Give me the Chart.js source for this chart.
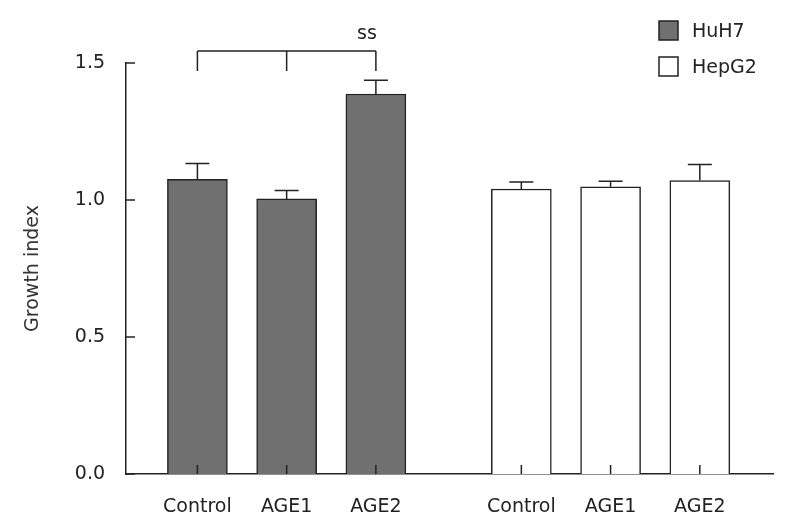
<!DOCTYPE html>
<html lang="en">
  <head>
    <meta charset="UTF-8" />
    <title>Growth index</title>
    <script src="https://cdn.jsdelivr.net/npm/chart.js"></script>
    <style>
      body {
        margin: 0;
        background: #fff;
      }
    </style>
  </head>
  <body>
    <canvas id="chartCanvas" width="798" height="531"></canvas>

    <script>
      const categories = ["Control", "AGE1", "AGE2"];
      const huh7Values = [1.075, 1.004, 1.387];
      const huh7Errors = [0.058, 0.031, 0.05];
      const hepg2Values = [1.04, 1.048, 1.071];
      const hepg2Errors = [0.026, 0.02, 0.059];
      const yTicks = [0, 0.5, 1.0, 1.5];
      const significance = "ss";

      // layout of the two groups on the x axis
      const groupGap = 0.63;
      const xOf = (group, i) => group * (categories.length + groupGap) + i;
      const xPositions = [];
      [0, 1].forEach((g) => categories.forEach((c, i) => xPositions.push(xOf(g, i))));
      const xLabels = categories.concat(categories);

      const ink = "#222";
      const font = { family: "'DejaVu Sans', Verdana, sans-serif", size: 19 };

      const errorBars = {
        id: "errorBars",
        afterDatasetsDraw(chart) {
          const ctx = chart.ctx;
          const y = chart.scales.y;
          ctx.save();
          ctx.strokeStyle = ink;
          ctx.lineWidth = 1.5;
          chart.data.datasets.forEach((ds, di) => {
            const meta = chart.getDatasetMeta(di);
            meta.data.forEach((bar, i) => {
              const v = ds.data[i].y;
              const top = y.getPixelForValue(v + ds.errors[i]);
              const base = y.getPixelForValue(v);
              ctx.beginPath();
              ctx.moveTo(bar.x, base);
              ctx.lineTo(bar.x, top);
              ctx.moveTo(bar.x - 12, top);
              ctx.lineTo(bar.x + 12, top);
              ctx.stroke();
            });
          });
          ctx.restore();
        },
      };

      const decorations = {
        id: "decorations",
        afterDraw(chart) {
          const ctx = chart.ctx;
          const { x, y } = chart.scales;
          const area = chart.chartArea;
          ctx.save();
          ctx.strokeStyle = ink;
          ctx.lineWidth = 1.5;

          // inward tick marks
          ctx.beginPath();
          y.ticks.forEach((t) => {
            const py = y.getPixelForValue(t.value);
            ctx.moveTo(area.left, py);
            ctx.lineTo(area.left + 9, py);
          });
          x.ticks.forEach((t) => {
            const px = x.getPixelForValue(t.value);
            ctx.moveTo(px, area.bottom);
            ctx.lineTo(px, area.bottom - 9);
          });
          ctx.stroke();

          // significance bracket over the HuH7 group
          const yLine = y.getPixelForValue(1.544);
          const yFoot = y.getPixelForValue(1.471);
          const xs = categories.map((c, i) => x.getPixelForValue(xOf(0, i)));
          ctx.beginPath();
          ctx.moveTo(xs[0], yLine);
          ctx.lineTo(xs[xs.length - 1], yLine);
          xs.forEach((px) => {
            ctx.moveTo(px, yLine);
            ctx.lineTo(px, yFoot);
          });
          ctx.stroke();
          ctx.fillStyle = ink;
          ctx.font = "19px " + font.family;
          ctx.textAlign = "right";
          ctx.textBaseline = "middle";
          ctx.fillText(significance, xs[xs.length - 1] + 1, yLine - 17);

          // legend
          chart.data.datasets.forEach((ds, i) => {
            const bx = area.right - 114;
            const by = 21 + i * 36;
            ctx.fillStyle = ds.backgroundColor;
            ctx.fillRect(bx, by, 19, 19);
            ctx.strokeRect(bx, by, 19, 19);
            ctx.fillStyle = ink;
            ctx.textAlign = "left";
            ctx.fillText(ds.label, bx + 33, by + 11);
          });
          ctx.restore();
        },
      };

      const ctx = document.getElementById("chartCanvas").getContext("2d");
      const chart = new Chart(ctx, {
        type: "bar",
        data: {
          datasets: [
            {
              label: "HuH7",
              data: huh7Values.map((v, i) => ({ x: xOf(0, i), y: v })),
              errors: huh7Errors,
              backgroundColor: "#707070",
              borderColor: ink,
              borderWidth: 1.5,
            },
            {
              label: "HepG2",
              data: hepg2Values.map((v, i) => ({ x: xOf(1, i), y: v })),
              errors: hepg2Errors,
              backgroundColor: "#ffffff",
              borderColor: ink,
              borderWidth: 1.5,
            },
          ],
        },
        options: {
          responsive: false,
          animation: false,
          grouped: false,
          barThickness: 60,
          layout: { padding: { left: 10, right: 25, top: 63, bottom: -9 } },
          plugins: {
            legend: { display: false },
            tooltip: { enabled: false },
          },
          scales: {
            x: {
              type: "linear",
              offset: false,
              min: -0.8,
              max: 6.45,
              grid: { display: false, drawTicks: false },
              border: { color: ink, width: 1.5 },
              afterBuildTicks: (scale) => {
                scale.ticks = xPositions.map((v) => ({ value: v }));
              },
              ticks: {
                color: ink,
                font: font,
                padding: 21.6,
                maxRotation: 0,
                autoSkip: false,
                callback: (value, index) => xLabels[index],
              },
            },
            y: {
              min: 0,
              max: 1.5,
              grid: { display: false, drawTicks: false },
              border: { color: ink, width: 1.5 },
              afterBuildTicks: (scale) => {
                scale.ticks = yTicks.map((v) => ({ value: v }));
              },
              ticks: {
                color: ink,
                font: font,
                padding: 21,
                callback: (value) => value.toFixed(1),
              },
              title: {
                display: true,
                text: "Growth index",
                color: "#333",
                font: font,
                padding: { top: 12, bottom: 9 },
              },
            },
          },
        },
        plugins: [errorBars, decorations],
      });
    </script>
  </body>
</html>
